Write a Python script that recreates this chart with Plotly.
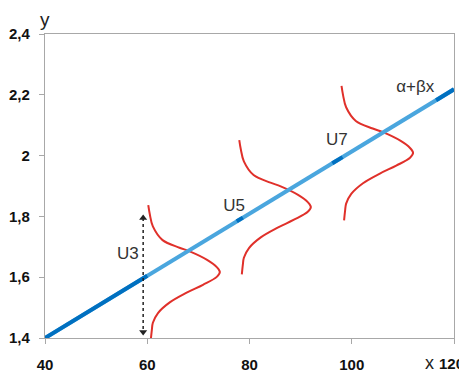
import plotly.graph_objects as go

# Axis ticks
x_ticks = [40, 60, 80, 100, 120]
x_tick_text = ["40", "60", "80", "100", ""]
x_last_label = "120"
y_ticks = [1.4, 1.6, 1.8, 2.0, 2.2, 2.4]
y_tick_text = ["1,4", "1,6", "1,8", "2", "2,2", "2,4"]

# Regression line alpha + beta x (endpoints)
line_x = [40, 120]
line_y = [1.4, 2.218]
# darker highlighted pieces of the line
dark_seg_x = [[40, 60], [77.5, 78.7], [96.2, 98.2], [116.5, 120]]
dark_seg_y = [[1.4, 1.605], [1.784, 1.796], [1.975, 1.995], [2.182, 2.218]]

# Shape of the error density curves (relative to base / peak)
curve_dy = [0.22, 0.19, 0.15, 0.105, 0.08, 0.068, 0.04, 0.016, 0.0,
            -0.016, -0.042, -0.068, -0.10, -0.135, -0.167, -0.19, -0.222]
curve_dx = [-0.5, -0.2, 0.4, 2.3, 5.6, 7.6, 11.0, 12.9, 13.5,
            12.9, 10.2, 7.0, 3.7, 1.4, 0.4, 0.2, 0.0]
curve_base_x = [60.7, 78.5, 98.5]
curve_peak_y = [1.617, 1.831, 2.009]

# Dotted double arrow
arrow_x = [59.2, 59.2]
arrow_y = [1.795, 1.42]

# Labels
labels = ["U3", "U5", "U7", "α+βx"]
label_x = [56.2, 77.0, 97.1, 112.4]
label_y = [1.673, 1.831, 2.048, 2.222]

LIGHT = "#4aa6de"
DARK = "#0070c0"
RED = "#e0302a"
TICKFONT = dict(family="Liberation Sans, Arial", size=15, color="#111111", weight="bold")

fig = go.Figure()

for bx, py in zip(curve_base_x, curve_peak_y):
    fig.add_trace(go.Scatter(
        x=[bx + d for d in curve_dx], y=[py + d for d in curve_dy],
        mode="lines", line=dict(color=RED, width=2, shape="spline", smoothing=1.0),
        hoverinfo="skip"))

fig.add_trace(go.Scatter(x=line_x, y=line_y, mode="lines",
                         line=dict(color=LIGHT, width=4), hoverinfo="skip"))
for sx, sy in zip(dark_seg_x, dark_seg_y):
    fig.add_trace(go.Scatter(x=sx, y=sy, mode="lines",
                             line=dict(color=DARK, width=4), hoverinfo="skip"))

fig.add_trace(go.Scatter(
    x=arrow_x, y=arrow_y, mode="lines+markers",
    line=dict(color="#222222", width=1.5, dash="dot"),
    marker=dict(symbol=["triangle-up", "triangle-down"], size=7, color="#222222"),
    hoverinfo="skip"))

fig.add_trace(go.Scatter(
    x=label_x, y=label_y, mode="text", text=labels,
    textfont=dict(family="Liberation Sans, Arial", size=17, color="#333333"),
    hoverinfo="skip"))

axis_common = dict(showgrid=False, zeroline=False, showline=True, mirror=True,
                   linecolor="#a8a8a8", linewidth=1.3, ticks="outside", ticklen=5,
                   tickcolor="#a8a8a8", automargin=False, tickfont=TICKFONT)

fig.update_xaxes(range=[40, 120], tickvals=x_ticks, ticktext=x_tick_text,
                 ticklabelstandoff=8, **axis_common)
fig.update_yaxes(range=[1.4, 2.4], tickvals=y_ticks, ticktext=y_tick_text,
                 ticklabelstandoff=6, **axis_common)

# last x tick label, kept inside the window
fig.add_annotation(text=x_last_label, xref="paper", yref="paper", x=1.0, y=0.0,
                   xanchor="right", yanchor="middle", xshift=12, yshift=-25,
                   showarrow=False, font=TICKFONT)

fig.add_annotation(text="y", xref="paper", yref="paper", x=0.0, y=1.0, xanchor="center",
                   yanchor="bottom", yshift=2, showarrow=False,
                   font=dict(family="Liberation Sans, Arial", size=19, color="#222222"))
fig.add_annotation(text="x", xref="paper", yref="paper", x=0.941, y=0.0, xanchor="center",
                   yanchor="middle", yshift=-25, showarrow=False,
                   font=dict(family="Liberation Sans, Arial", size=18, color="#222222"))

# the page body adds an 8px margin, so the figure is sized to fit the window
fig.update_layout(width=459, height=366, margin=dict(l=37, r=13, t=26, b=36),
                  plot_bgcolor="white", paper_bgcolor="white", showlegend=False)

fig.write_html("out.html")
